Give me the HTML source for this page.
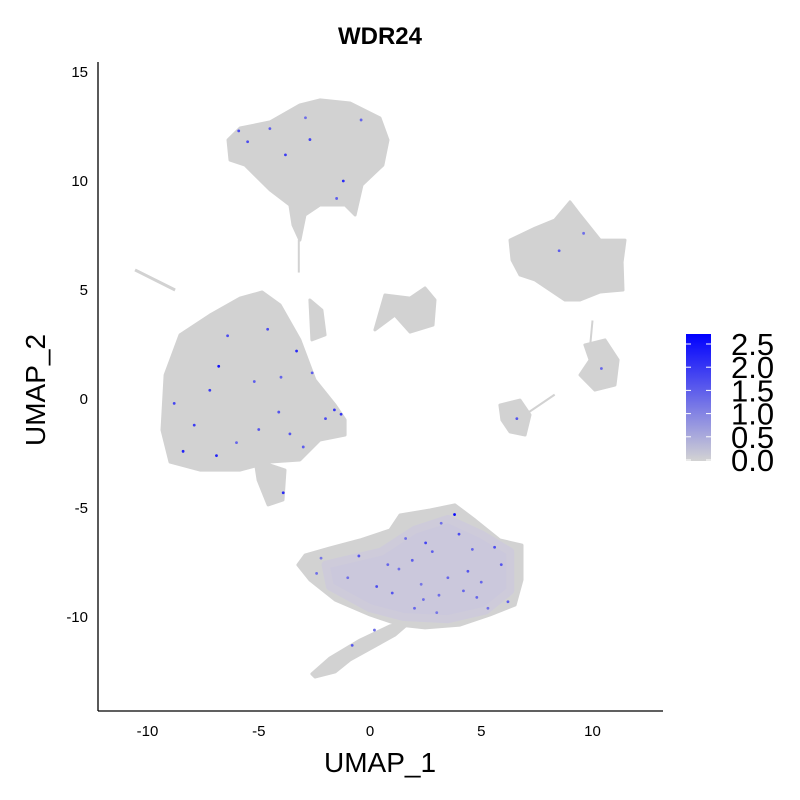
<!DOCTYPE html>
<html><head><meta charset="utf-8"><style>
body{margin:0;background:#fff}
svg{display:block;font-family:"Liberation Sans",sans-serif}
</style></head><body>
<svg id="chart" width="800" height="800">
<defs>
<linearGradient id="cg" x1="0" y1="1" x2="0" y2="0">
<stop offset="0" stop-color="#d3d3d3"/><stop offset="1" stop-color="#0000ff"/>
</linearGradient>
</defs>
<text x="380" y="44" text-anchor="middle" font-size="24" font-weight="bold">WDR24</text>
<g id="clusters"></g>
<g id="points"></g>
<g id="axes"></g>
<text x="380" y="772" text-anchor="middle" font-size="28">UMAP_1</text>
<text transform="translate(45,390) rotate(-90)" text-anchor="middle" font-size="28">UMAP_2</text>
<g>
<rect x="686" y="334" width="25" height="127" fill="url(#cg)"/>
<g id="legticks"></g>
</g>
</svg>
<script>
const xTicks=[-10,-5,0,5,10];
const yTicks=[-10,-5,0,5,10,15];
const legendTicks=[0.0,0.5,1.0,1.5,2.0,2.5];
const clusterNames=["top","left","left-small","left-strip","middle","right-top","right-lower","right-small","bottom","bottom-tail"];
const clusterX=[
[-6.38,-5.84,-4.49,-3.15,-2.25,-0.9,0.45,0.81,0.58,-0.36,-0.67,-1.12,-2.25,-2.92,-3.15,-3.46,-3.6,-4.49,-5.62,-6.29],
[-9.35,-9.21,-8.54,-7.19,-5.84,-4.85,-4.04,-3.15,-2.47,-1.57,-1.12,-1.12,-2.25,-3.15,-4.49,-5.84,-7.64,-8.99],
[-5.17,-3.82,-3.91,-4.58,-5.03],
[-2.7,-2.16,-2.02,-2.61],
[0.67,1.8,2.47,2.92,2.83,1.8,1.12,0.22],
[6.29,7.42,8.31,8.99,9.44,10.34,11.46,11.33,11.37,10.34,9.44,8.76,8.09,7.42,6.74,6.38],
[9.66,10.56,11.15,11.01,10.11,9.44,9.89],
[5.84,6.74,7.19,6.97,6.29,5.93],
[-2.92,-1.8,-0.45,0.9,1.35,2.7,3.82,4.72,5.84,6.83,6.83,6.52,5.39,4.04,2.47,1.35,0,-1.57,-2.7,-3.24],
[1.8,1.12,-0.9,-1.57,-2.47,-2.61,-1.8,-0.45,0.9]];
const clusterY=[
[11.88,12.43,12.71,13.49,13.72,13.58,12.89,11.88,10.73,9.82,8.44,8.9,8.9,8.44,7.29,7.98,8.9,9.59,10.73,10.96],
[-1.42,1.1,2.94,3.85,4.63,4.91,4.31,2.71,0.87,-0.28,-0.96,-1.65,-1.88,-2.8,-2.89,-3.26,-3.26,-2.89],
[-2.8,-3.26,-4.63,-4.86,-3.72],
[4.54,4.08,2.94,2.71],
[4.77,4.63,5.09,4.54,3.39,3.07,3.85,3.17],
[7.29,7.84,8.21,9.04,8.44,7.29,7.29,6.28,5.0,4.91,4.54,4.54,5.0,5.46,5.69,6.38],
[2.48,2.71,1.79,0.64,0.41,1.1,1.79],
[-0.28,-0.05,-0.73,-1.65,-1.51,-0.96],
[-7.16,-6.83,-6.47,-6.01,-5.32,-5.09,-4.86,-5.55,-6.47,-6.7,-8.3,-9.45,-9.91,-10.37,-10.5,-10.37,-9.91,-9.22,-8.3,-7.61],
[-10.23,-10.83,-11.97,-12.52,-12.75,-12.61,-11.88,-11.06,-10.41]];
const tintX=[-2.0,0.5,2.0,3.5,5.0,6.3,6.3,5.2,3.5,1.5,0,-1.8];
const tintY=[-7.6,-7.0,-6.0,-5.5,-6.2,-7.0,-8.8,-9.7,-10.1,-10.0,-9.6,-8.6];
const streakX=[-10.56,-8.76], streakY=[5.92,5.0];
const exprX=[-4.5,-3.8,-2.9,-5.5,-1.2,-6.8,-7.9,-4.1,-3.3,-2.0,-8.4,-5.2,-6.0,-1.6,-4.6,-3.0,-0.5,-2.4,0.3,1.9,2.5,3.1,3.8,4.4,5.0,5.6,6.2,2.0,1.0,0.2,4.0,3.5,2.8,-0.8,8.5,9.6,10.4,6.6,-2.7,-3.9,-1.5,4.8,5.9,3.2,-7.2,-6.4,-5.0,-2.6,-8.8,-4.0,-1.3,-3.6,-6.9,-0.4,-5.9,1.3,2.3,4.6,5.3,3.0,-1.0,0.8,2.4,-2.2,1.6,4.2];
const exprY=[12.4,11.2,12.9,11.8,10.0,1.5,-1.2,-0.6,2.2,-0.9,-2.4,0.8,-2.0,-0.5,3.2,-2.2,-7.2,-8.0,-8.6,-7.4,-6.6,-9.0,-5.3,-7.9,-8.4,-6.8,-9.3,-9.6,-8.9,-10.6,-6.2,-8.2,-7.0,-11.3,6.8,7.6,1.4,-0.9,11.9,-4.3,9.2,-9.1,-7.6,-5.7,0.4,2.9,-1.4,1.2,-0.2,1.0,-0.7,-1.6,-2.6,12.8,12.3,-7.8,-8.5,-6.9,-9.6,-9.8,-8.2,-7.6,-9.2,-7.3,-6.4,-8.8];
const exprV=[1.4,1.8,1.2,1.6,2.0,2.3,1.8,1.5,2.0,1.6,2.1,1.4,1.3,1.9,1.6,1.4,1.5,1.2,1.6,1.4,1.7,1.2,2.4,1.5,1.3,1.6,1.4,1.3,1.5,1.2,1.6,1.3,1.4,1.5,1.4,1.2,1.3,1.5,1.7,2.0,1.4,1.3,1.5,1.2,1.8,1.6,1.5,1.4,1.7,1.3,1.9,1.5,2.1,1.3,1.6,1.2,1.1,1.3,1.2,1.1,1.2,1.3,1.2,1.1,1.2,1.3];
const NS="http://www.w3.org/2000/svg";
const sx=v=>370+v*22.25, sy=v=>399-v*21.8;
const el=(t,a,p)=>{const e=document.createElementNS(NS,t);for(const k in a)e.setAttribute(k,a[k]);p.appendChild(e);return e;};
const cg=document.getElementById('clusters');
clusterX.forEach((xs,i)=>{
  const pts=xs.map((x,j)=>sx(x).toFixed(1)+','+sy(clusterY[i][j]).toFixed(1)).join(' ');
  const p=el('polygon',{points:pts,fill:'#d2d2d2',stroke:'#d2d2d2','stroke-width':3,'stroke-linejoin':'round'},cg);
  
  
});
const tp=el('polygon',{points:tintX.map((x,j)=>sx(x).toFixed(1)+','+sy(tintY[j]).toFixed(1)).join(' '),fill:'#c6bfe6','stroke':'#cbc6e2','stroke-width':8,'stroke-linejoin':'round',opacity:0.5},cg);


const st=el('line',{x1:sx(streakX[0]),y1:sy(streakY[0]),x2:sx(streakX[1]),y2:sy(streakY[1]),stroke:'#d2d2d2','stroke-width':3},cg);


const tails=[[[10.0,3.6],[9.9,2.5]],[[7.0,-0.7],[8.3,0.2]],[[-3.2,7.3],[-3.2,5.8]]];
tails.forEach(t=>{const l=el('line',{x1:sx(t[0][0]),y1:sy(t[0][1]),x2:sx(t[1][0]),y2:sy(t[1][1]),stroke:'#d2d2d2','stroke-width':2},cg);

});
const pg=document.getElementById('points');
const col=v=>{const f=Math.min(v/2.5,1);const c=Math.round(211*(1-f));return `rgb(${c},${c},${Math.round(211+(255-211)*f)})`;};
exprX.forEach((x,i)=>{
  const c=el('circle',{cx:sx(x),cy:sy(exprY[i]),r:1.4,fill:col(exprV[i])},pg);
  
  
});
const ax=document.getElementById('axes');
const yl=el('line',{x1:98,y1:62,x2:98,y2:711,stroke:'#000','stroke-width':1.3},ax);


const xl=el('line',{x1:98,y1:711,x2:663,y2:711,stroke:'#000','stroke-width':1.3},ax);


xTicks.forEach(v=>{
  const t=el('text',{x:sx(v),y:736,'text-anchor':'middle','font-size':15},ax);t.textContent=v;
  
  
});
yTicks.forEach(v=>{
  const t=el('text',{x:88,y:sy(v)+5,'text-anchor':'end','font-size':15},ax);t.textContent=v;
  
  
});
const lg=document.getElementById('legticks');
legendTicks.forEach(v=>{
  const y=460-v/2.5*116;
  el('line',{x1:686,y1:y,x2:691,y2:y,stroke:'#fff'},lg);
  el('line',{x1:706,y1:y,x2:711,y2:y,stroke:'#fff'},lg);
  const t=el('text',{x:731,y:y+11,'font-size':31},lg);t.textContent=v.toFixed(1);
  
  
});
</script>
</body></html>
